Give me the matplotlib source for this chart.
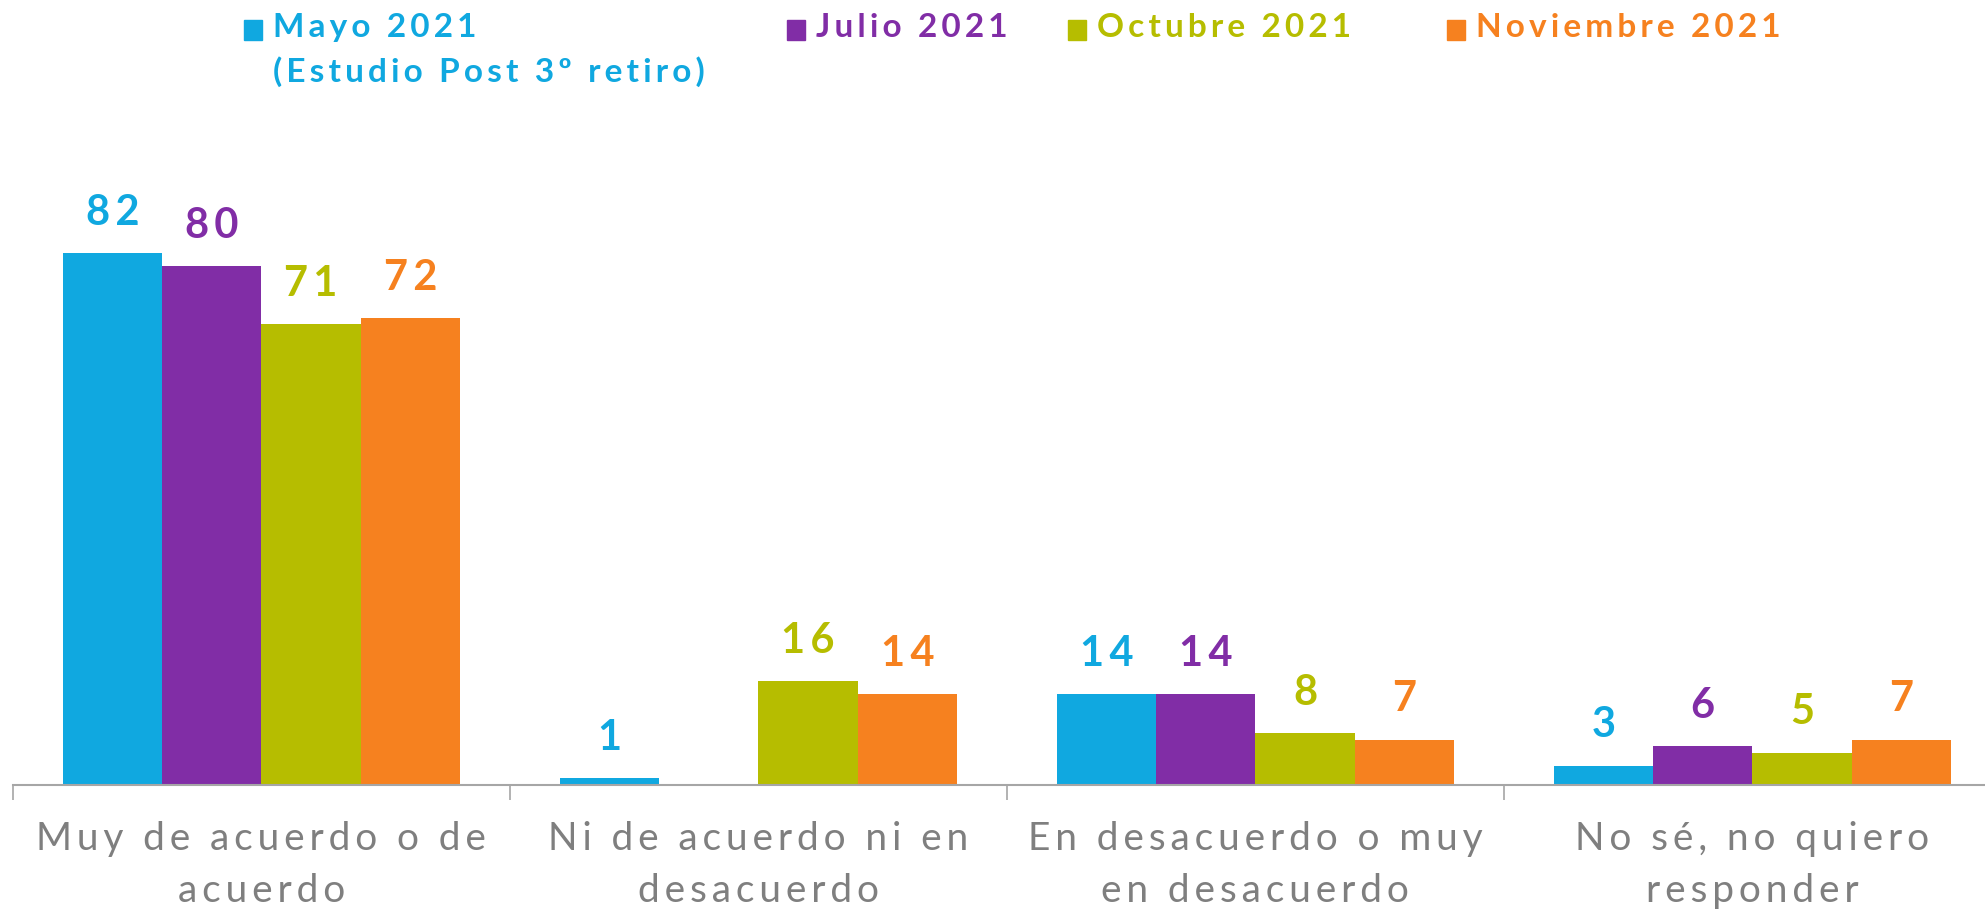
import numpy as np
import matplotlib.pyplot as plt
from matplotlib.patches import Rectangle

plt.rcParams['font.family'] = ['Lato', 'DejaVu Sans']

categories = ["Muy de acuerdo o de\nacuerdo", "Ni de acuerdo ni en\ndesacuerdo",
              "En desacuerdo o muy\nen desacuerdo", "No sé, no quiero\nresponder"]
series_names = ["Mayo 2021\n(Estudio Post 3º retiro)", "Julio 2021", "Octubre 2021", "Noviembre 2021"]
mayo = [82, 1, 14, 3]
julio = [80, None, 14, 6]
octubre = [71, 16, 8, 5]
noviembre = [72, 14, 7, 7]
colors = ["#10A8E0", "#812DA6", "#B6BD00", "#F6811F"]


def spaced(s, sep='\u2009'):
    return "\n".join(sep.join(line) for line in s.split("\n"))


fig = plt.figure(figsize=(19.85, 9.10), dpi=100)
ax = fig.add_axes([0.0065, 0.1374, 1.0015, 0.6417])

x = np.arange(len(categories))
w = 0.2
for i, vals in enumerate([mayo, julio, octubre, noviembre]):
    for j, v in enumerate(vals):
        if v is None:
            continue
        xp = x[j] + (i - 1.5) * w
        ax.bar(xp, v, w, color=colors[i])
        ax.annotate(spaced(str(v)), (xp, v), xytext=(0, 29), textcoords='offset points',
                    ha='center', va='center', color=colors[i], fontsize=30, fontweight='bold')

ax.set_xlim(-0.5, len(categories) - 0.5)
ax.set_ylim(0, 90)
for s in ['top', 'right', 'left']:
    ax.spines[s].set_visible(False)
ax.spines['bottom'].set_color('#A6A6A6')
ax.spines['bottom'].set_linewidth(1.5)
ax.set_yticks([])
ax.set_xticks(np.arange(len(categories) + 1) - 0.5)
ax.set_xticklabels([])
ax.tick_params(axis='x', length=11, width=1.2, color='#A6A6A6')
for j, c in enumerate(categories):
    ax.text(x[j], -5.6, spaced(c), ha='center', va='top', fontsize=28, color='#7F7F7F',
            linespacing=1.55, transform=ax.transData)

# legend
leg_x = [0.123, 0.3965, 0.538, 0.729]
for i, name in enumerate(series_names):
    fig.patches.append(Rectangle((leg_x[i], 0.956), 0.0092, 0.022, transform=fig.transFigure,
                                 color=colors[i]))
    fig.text(leg_x[i] + 0.0145, 0.986, spaced(name), ha='left', va='top', fontsize=24,
             fontweight='bold', color=colors[i], linespacing=1.55)

fig.savefig("out.png", dpi=100)
